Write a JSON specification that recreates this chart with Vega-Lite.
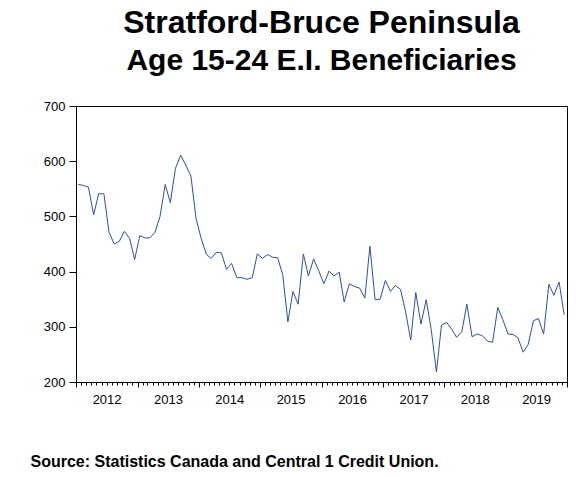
{
  "$schema": "https://vega.github.io/schema/vega-lite/v6.json",
  "width": 491,
  "height": 276,
  "autosize": {"type": "none"},
  "padding": {"left": 76, "top": 106, "right": 9, "bottom": 95},
  "background": "white",
  "title": {
    "text": "Stratford-Bruce Peninsula",
    "subtitle": "Age 15-24 E.I. Beneficiaries",
    "font": "Liberation Sans",
    "fontSize": 32,
    "fontWeight": "bold",
    "color": "black",
    "subtitleFont": "Liberation Sans",
    "subtitleFontSize": 30,
    "subtitleFontWeight": "bold",
    "subtitleColor": "black",
    "subtitlePadding": 6,
    "anchor": "middle",
    "frame": "group",
    "offset": 23
  },
  "config": {
    "view": {"stroke": "black", "strokeWidth": 1},
    "axis": {
      "labelFont": "Liberation Sans",
      "labelFontSize": 13,
      "labelColor": "black",
      "domainColor": "black",
      "tickColor": "black",
      "grid": false
    }
  },
  "data": {
    "values": [
      {"date": "2012-01-15", "value": 558}, {"date": "2012-02-15", "value": 556}, {"date": "2012-03-15", "value": 553}, {"date": "2012-04-15", "value": 503},
      {"date": "2012-05-15", "value": 541}, {"date": "2012-06-15", "value": 541}, {"date": "2012-07-15", "value": 472}, {"date": "2012-08-15", "value": 450},
      {"date": "2012-09-15", "value": 455}, {"date": "2012-10-15", "value": 473}, {"date": "2012-11-15", "value": 460}, {"date": "2012-12-15", "value": 422},
      {"date": "2013-01-15", "value": 465}, {"date": "2013-02-15", "value": 461}, {"date": "2013-03-15", "value": 461}, {"date": "2013-04-15", "value": 471},
      {"date": "2013-05-15", "value": 500}, {"date": "2013-06-15", "value": 558}, {"date": "2013-07-15", "value": 525}, {"date": "2013-08-15", "value": 587},
      {"date": "2013-09-15", "value": 611}, {"date": "2013-10-15", "value": 593}, {"date": "2013-11-15", "value": 573}, {"date": "2013-12-15", "value": 497},
      {"date": "2014-01-15", "value": 460}, {"date": "2014-02-15", "value": 431}, {"date": "2014-03-15", "value": 424}, {"date": "2014-04-15", "value": 435},
      {"date": "2014-05-15", "value": 434}, {"date": "2014-06-15", "value": 404}, {"date": "2014-07-15", "value": 415}, {"date": "2014-08-15", "value": 389},
      {"date": "2014-09-15", "value": 389}, {"date": "2014-10-15", "value": 386}, {"date": "2014-11-15", "value": 389}, {"date": "2014-12-15", "value": 432},
      {"date": "2015-01-15", "value": 424}, {"date": "2015-02-15", "value": 431}, {"date": "2015-03-15", "value": 426}, {"date": "2015-04-15", "value": 425},
      {"date": "2015-05-15", "value": 395}, {"date": "2015-06-15", "value": 309}, {"date": "2015-07-15", "value": 364}, {"date": "2015-08-15", "value": 341},
      {"date": "2015-09-15", "value": 432}, {"date": "2015-10-15", "value": 392}, {"date": "2015-11-15", "value": 423}, {"date": "2015-12-15", "value": 402},
      {"date": "2016-01-15", "value": 378}, {"date": "2016-02-15", "value": 401}, {"date": "2016-03-15", "value": 392}, {"date": "2016-04-15", "value": 399},
      {"date": "2016-05-15", "value": 345}, {"date": "2016-06-15", "value": 378}, {"date": "2016-07-15", "value": 373}, {"date": "2016-08-15", "value": 370},
      {"date": "2016-09-15", "value": 352}, {"date": "2016-10-15", "value": 446}, {"date": "2016-11-15", "value": 349}, {"date": "2016-12-15", "value": 350},
      {"date": "2017-01-15", "value": 384}, {"date": "2017-02-15", "value": 364}, {"date": "2017-03-15", "value": 375}, {"date": "2017-04-15", "value": 368},
      {"date": "2017-05-15", "value": 328}, {"date": "2017-06-15", "value": 276}, {"date": "2017-07-15", "value": 362}, {"date": "2017-08-15", "value": 305},
      {"date": "2017-09-15", "value": 349}, {"date": "2017-10-15", "value": 295}, {"date": "2017-11-15", "value": 218}, {"date": "2017-12-15", "value": 303},
      {"date": "2018-01-15", "value": 308}, {"date": "2018-02-15", "value": 295}, {"date": "2018-03-15", "value": 281}, {"date": "2018-04-15", "value": 291},
      {"date": "2018-05-15", "value": 341}, {"date": "2018-06-15", "value": 282}, {"date": "2018-07-15", "value": 287}, {"date": "2018-08-15", "value": 284},
      {"date": "2018-09-15", "value": 274}, {"date": "2018-10-15", "value": 272}, {"date": "2018-11-15", "value": 335}, {"date": "2018-12-15", "value": 313},
      {"date": "2019-01-15", "value": 287}, {"date": "2019-02-15", "value": 286}, {"date": "2019-03-15", "value": 280}, {"date": "2019-04-15", "value": 254},
      {"date": "2019-05-15", "value": 268}, {"date": "2019-06-15", "value": 311}, {"date": "2019-07-15", "value": 315}, {"date": "2019-08-15", "value": 287},
      {"date": "2019-09-15", "value": 377}, {"date": "2019-10-15", "value": 357}, {"date": "2019-11-15", "value": 381}, {"date": "2019-12-15", "value": 322}
    ]
  },
  "mark": {"type": "line", "color": "#2f4ea8", "strokeWidth": 1},
  "encoding": {
    "x": {
      "field": "date",
      "type": "temporal",
      "scale": {
        "type": "utc",
        "domain": [
          {"year": 2012, "month": 1, "date": 1, "utc": true},
          {"year": 2020, "month": 1, "date": 1, "utc": true}
        ]
      },
      "axis": {
        "tickCount": {"interval": "month", "step": 1},
        "tickSize": {"condition": {"test": "utcmonth(datum.value) == 0", "value": 5}, "value": 3},
        "labelExpr": "utcmonth(datum.value) == 6 ? utcFormat(datum.value, '%Y') : ''",
        "labelOverlap": false,
        "labelFlush": false,
        "labelPadding": 8,
        "title": "Source: Statistics Canada and Central 1 Credit Union.",
        "titleFont": "Liberation Sans",
        "titleFontSize": 16,
        "titleFontWeight": "bold",
        "titleColor": "black",
        "titleAnchor": "start",
        "titleAlign": "left",
        "titleBaseline": "alphabetic",
        "titleX": -46,
        "titleY": 84
      }
    },
    "y": {
      "field": "value",
      "type": "quantitative",
      "scale": {"domain": [200, 700]},
      "axis": {"values": [200, 300, 400, 500, 600, 700], "tickSize": 7, "labelPadding": 4, "title": null}
    }
  }
}
